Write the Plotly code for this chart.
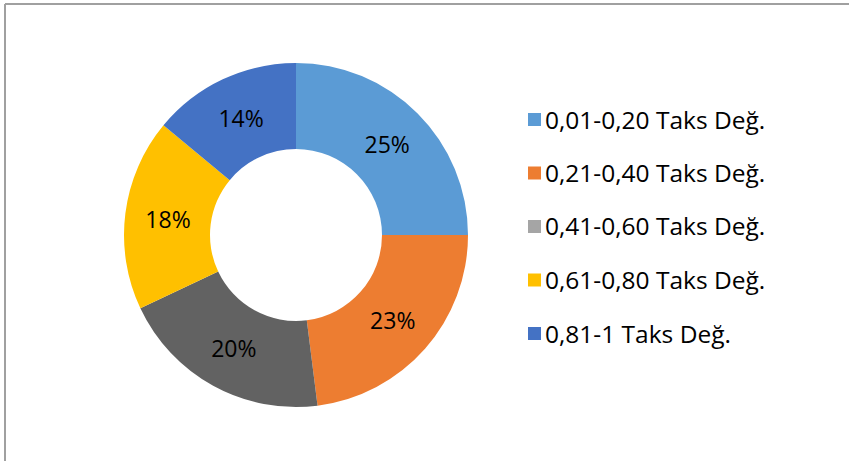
import plotly.graph_objects as go

W, H = 849, 461

labels = ["0,01-0,20 Taks Değ.", "0,21-0,40 Taks Değ.", "0,41-0,60 Taks Değ.",
          "0,61-0,80 Taks Değ.", "0,81-1 Taks Değ."]
values = [25, 23, 20, 18, 14]
slice_colors = ["#5b9bd5", "#ed7d31", "#626262", "#ffc000", "#4472c4"]
legend_colors = ["#5b9bd5", "#ed7d31", "#a5a5a5", "#ffc000", "#4472c4"]

FONT = "Open Sans"


def px_x(x):
    return x / W


def px_y(y):
    return 1 - y / H


fig = go.Figure()

fig.add_trace(go.Pie(
    labels=labels,
    values=values,
    hole=0.5,
    sort=False,
    direction="clockwise",
    rotation=0,
    marker=dict(colors=slice_colors, line=dict(width=0)),
    textinfo="percent",
    textposition="inside",
    insidetextorientation="horizontal",
    textfont=dict(family=FONT, size=23, color="#000000"),
    domain=dict(x=[px_x(124), px_x(468)], y=[px_y(407), px_y(63)]),
    showlegend=False,
))

# legend drawn by hand so the row spacing matches
shapes = [
    dict(type="line", xref="paper", yref="paper",
         x0=px_x(5), x1=1, y0=px_y(4), y1=px_y(4),
         line=dict(color="#a0a0a0", width=2)),
    dict(type="line", xref="paper", yref="paper",
         x0=px_x(5), x1=px_x(5), y0=px_y(4), y1=0,
         line=dict(color="#a0a0a0", width=2)),
]
annotations = []
for i, (lab, col) in enumerate(zip(labels, legend_colors)):
    yc = 119 + i * 53.5
    shapes.append(dict(type="rect", xref="paper", yref="paper",
                       x0=px_x(528), x1=px_x(541), y0=px_y(yc + 7), y1=px_y(yc - 6),
                       fillcolor=col, line=dict(width=0)))
    annotations.append(dict(x=px_x(543), y=px_y(yc), xref="paper", yref="paper",
                            text=lab, showarrow=False, xanchor="left", yanchor="middle",
                            font=dict(family=FONT, size=24.5, color="#000000")))

fig.update_layout(
    width=W, height=H,
    margin=dict(l=0, r=0, t=0, b=0),
    paper_bgcolor="white",
    plot_bgcolor="white",
    shapes=shapes,
    annotations=annotations,
)

fig.write_html("out.html", config={"displayModeBar": False},
               post_script="document.body.style.margin='0';")
